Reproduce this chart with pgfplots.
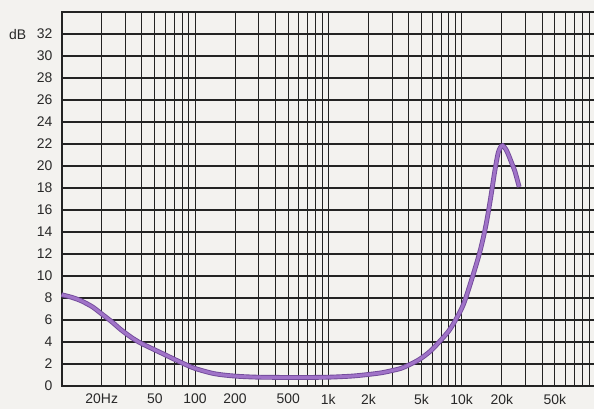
\documentclass[border=0pt]{standalone}
\usepackage{pgfplots}
\pgfplotsset{compat=1.18}
\usepackage{fontspec}
\setmainfont{Liberation Sans}
\usetikzlibrary{backgrounds}
\definecolor{paper}{RGB}{243,242,239}
\definecolor{gridc}{RGB}{35,35,35}
\definecolor{txt}{RGB}{40,40,40}
\definecolor{curvedark}{RGB}{115,75,155}
\definecolor{curvelight}{RGB}{160,115,200}
\pgfplotstableread{
f db
10 8.3
12 8.05
14 7.75
17 7.2
20 6.55
24 5.8
28 5.1
34 4.35
40 3.85
56 3.0
80 2.1
100 1.6
140 1.12
200 0.9
300 0.8
500 0.78
700 0.78
1000 0.8
1500 0.9
2000 1.05
2500 1.2
3000 1.4
3500 1.6
4000 1.9
4800 2.4
5800 3.15
6900 4.1
8000 5.0
9000 6.0
10300 7.4
11900 9.7
13700 12.2
15200 14.6
16500 17.1
17700 19.5
18800 21.2
19800 21.8
20300 21.85
20800 21.75
21500 21.5
22300 21.1
23500 20.4
25100 19.5
27000 18.1
}\response
\begin{document}
\begin{tikzpicture}[show background rectangle, inner frame sep=0pt, background rectangle/.style={fill=paper, draw=none}]
\path[use as bounding box] (-61.6bp,-23bp) rectangle (532.4bp,386bp);
\begin{axis}[
  at={(0,0)}, anchor=south west,
  scale only axis,
  width=533.4bp, height=374bp,
  xmode=log,
  xmin=10, xmax=100000,
  ymin=0, ymax=34,
  axis line style={gridc, line width=1.9pt},
  major tick length=0pt, minor tick length=0pt,
  xtick={20,50,100,200,500,1000,2000,5000,10000,20000,50000},
  xticklabels={20Hz,50,100,200,500,1k,2k,5k,10k,20k,50k},
  minor xtick={10,20,30,40,50,60,70,80,90,100,200,300,400,500,600,700,800,900,1000,2000,3000,4000,5000,6000,7000,8000,9000,10000,20000,30000,40000,50000,60000,70000,80000,90000},
  ytick={0,2,...,32},
  yticklabels={0,2,4,6,8,10,12,14,16,18,20,22,24,26,28,30,32},
  xmajorgrids=false, xminorgrids=true, ymajorgrids=true,
  minor x grid style={gridc, line width=0.8pt},
  major y grid style={gridc, line width=1.2pt},
  xticklabel style={font=\fontsize{14}{16}\selectfont, text=txt, inner sep=0pt, anchor=north, yshift=-8bp},
  yticklabel style={font=\fontsize{14}{16}\selectfont, text=txt, inner sep=0pt, anchor=east, xshift=-9bp},
  axis background/.style={fill=paper},
  clip=false,
]
\addplot[curvedark, line width=4.8pt, smooth, line cap=butt] table[x=f, y=db] {\response};
\addplot[curvelight, line width=3.0pt, smooth, line cap=butt] table[x=f, y=db] {\response};
\end{axis}
\node[font=\fontsize{14}{16}\selectfont, text=txt, inner sep=0pt] at (-44bp,351bp) {dB};
\end{tikzpicture}
\end{document}
